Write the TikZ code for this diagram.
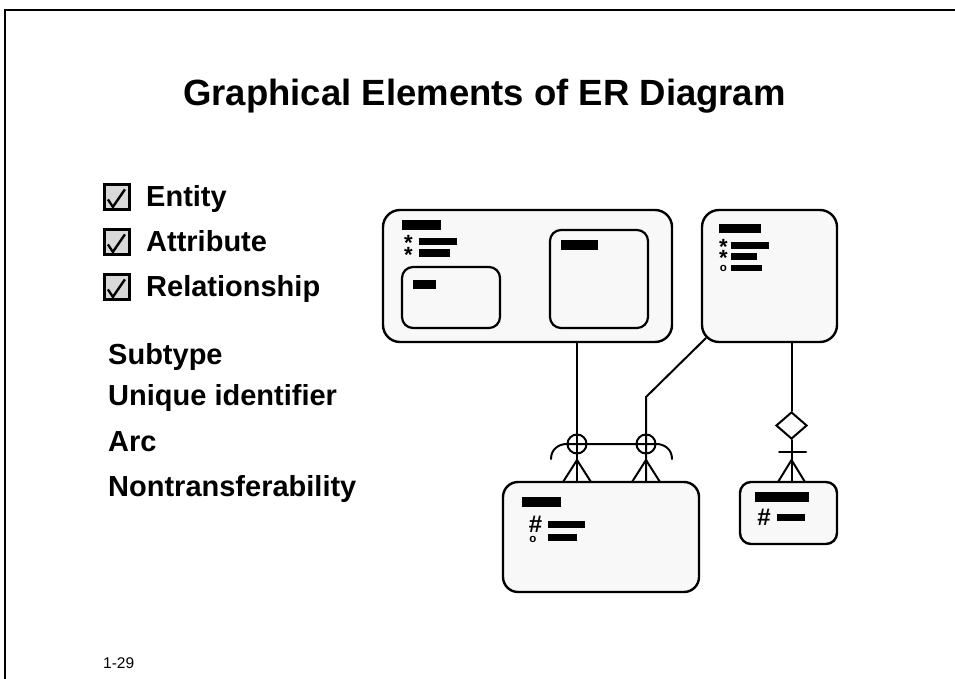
\documentclass[tikz,border=0pt]{standalone}
\usepackage{fontspec}
\setmainfont{Liberation Sans}
\usetikzlibrary{shapes.geometric,calc}
\definecolor{entfill}{HTML}{F8F8F8}
\definecolor{boxfill}{HTML}{D9D9D9}

\begin{document}
\begin{tikzpicture}[x=1pt,y=-1pt,
  entity/.style={draw, line width=2.4pt, fill=entfill, inner sep=0pt},
  subent/.style={draw, line width=2.2pt, fill=entfill, inner sep=0pt, rounded corners=11pt},
  bar/.style={fill=black},
  conn/.style={line width=2pt, line cap=round, line join=round},
  xcirc/.style={circle, draw, line width=2pt, minimum size=19pt, inner sep=0pt},
  checkbox/.style={draw, line width=2.2pt, fill=boxfill, minimum size=25pt, inner sep=0pt},
  tick/.style={line width=2.4pt, line join=miter},
  heading/.style={font=\fontsize{36.5}{42}\selectfont\bfseries, inner sep=0pt},
  item/.style={font=\fontsize{29}{34}\selectfont\bfseries, inner sep=0pt, anchor=base west},
  % asterisk: box trimmed to the glyph so that the node centre is the star's centre
  keymark/.style={inner sep=0pt, anchor=center, text height=15.6pt, text depth=-9.6pt,
    font=\fontsize{22}{24}\selectfont\bfseries},
  opt/.style={inner sep=0pt, anchor=center, text height=6pt, text depth=0pt,
    font=\fontsize{11.5}{13}\selectfont\bfseries},
  uid/.style={inner sep=0pt, anchor=center, font=\fontsize{24}{26}\selectfont\bfseries},
  frame/.style={line width=2pt}
]
\useasboundingbox (0,0) rectangle (955,679);

% slide frame
\draw[frame] (5,700) -- (5,10) -- (975,10);

% heading
\node[heading, anchor=base] (title) at (484.5,106) {Graphical Elements of ER Diagram};

% checked items
\node[checkbox] (cbEntity) at (117,197) {};
\node[checkbox] (cbAttr) at (117,242) {};
\node[checkbox] (cbRel) at (117,287) {};
\foreach \cb in {cbEntity,cbAttr,cbRel}
  \draw[tick] ($(\cb.north west)+(4.5,16)$) -- ++(5,7.5) -- ++(12,-17.5);
\node[item] (lEntity) at (146,206.5) {Entity};
\node[item] (lAttr) at (146,251.5) {Attribute};
\node[item] (lRel) at (146,296.5) {Relationship};

% remaining items
\node[item] (lSub) at (108,364) {Subtype};
\node[item] (lUid) at (108,405) {Unique identifier};
\node[item] (lArc) at (108,451) {Arc};
\node[item] (lNon) at (108,496) {Nontransferability};

% supertype entity with two subtypes
\node[entity, rounded corners=17pt, minimum width=289pt, minimum height=132pt] (A) at (527.5,276) {};
\node[subent, minimum width=98pt, minimum height=61pt] (As1) at (451,297.5) {};
\node[subent, minimum width=98pt, minimum height=98pt] (As2) at (599,279) {};
\fill[bar] (402,220) rectangle (441,230);
\fill[bar] (419,238) rectangle (457,245);
\fill[bar] (419,249) rectangle (450,257);
\fill[bar] (413,280) rectangle (436,289);
\fill[bar] (561,240) rectangle (598,250);
\node[keymark] (Ast1) at (408.5,243) {*};
\node[keymark] (Ast2) at (408.5,254.5) {*};

% entity top right
\node[entity, rounded corners=17pt, minimum width=135pt, minimum height=132pt] (B) at (769.5,276) {};
\fill[bar] (719,224) rectangle (761,233);
\fill[bar] (731,242) rectangle (769,249);
\fill[bar] (731,253) rectangle (757,260);
\fill[bar] (731,265) rectangle (762,271);
\node[keymark] (Bst1) at (723.5,247) {*};
\node[keymark] (Bst2) at (723.5,258) {*};
\node[opt] (Bo) at (723.5,268.5) {o};

% entity at the bottom
\node[entity, rounded corners=15pt, minimum width=196pt, minimum height=110pt] (C) at (601,537) {};
\fill[bar] (522,497) rectangle (561,507);
\fill[bar] (548,521) rectangle (585,528);
\fill[bar] (548,534) rectangle (577,541);
\node[uid] (Chash) at (535.5,524.5) {\#};
\node[opt] (Co) at (533,539) {o};

% small entity
\node[entity, rounded corners=11pt, minimum width=97pt, minimum height=62pt] (D) at (788.5,513) {};
\fill[bar] (755,492) rectangle (809,502);
\fill[bar] (777,514) rectangle (805,521);
\node[uid] (Dhash) at (764,517.5) {\#};

% relationships in the arc
\node[xcirc] (o1) at (577,444) {};
\node[xcirc] (o2) at (646,444) {};
\coordinate (bend) at (646,397);
\draw[conn] (A.south -| o1) -- (C.north -| o1);
\draw[conn] ($(B.south west)+(5,-5)$) -- (bend) -- (C.north -| o2);
\coordinate (arcL) at (551,459);
\coordinate (arcR) at (672,459);
\draw[conn] (arcL) .. controls (551,449) and (559,444) .. (o1.west) -- (o2.east)
  .. controls (664,444) and (672,449) .. (arcR);
% crow's feet
\coordinate (f1) at (577,460);
\coordinate (f1a) at (563,482);
\coordinate (f1b) at (591,482);
\draw[conn] (f1a) -- (f1) -- (f1b);
\coordinate (f2) at (646,460);
\coordinate (f2a) at (632,482);
\coordinate (f2b) at (660,482);
\draw[conn] (f2a) -- (f2) -- (f2b);

% non-transferable relationship
\node[diamond, draw, line width=2pt, minimum width=31pt, minimum height=27pt, inner sep=0pt] (dia) at (791.5,425.5) {};
\draw[conn] (B.south -| dia) -- (dia.north);
\draw[conn] (dia.south) -- (D.north -| dia);
\coordinate (t1) at (779,452);
\coordinate (t2) at (806,452);
\draw[conn] (t1) -- (t2);
\coordinate (f3) at (791.5,460);
\coordinate (f3a) at (778,482);
\coordinate (f3b) at (805,482);
\draw[conn] (f3a) -- (f3) -- (f3b);

% page number
\node[inner sep=0pt, anchor=base west, font=\fontsize{15.5}{18}\selectfont] (pageno) at (103,668) {1-29};
\end{tikzpicture}
\end{document}
